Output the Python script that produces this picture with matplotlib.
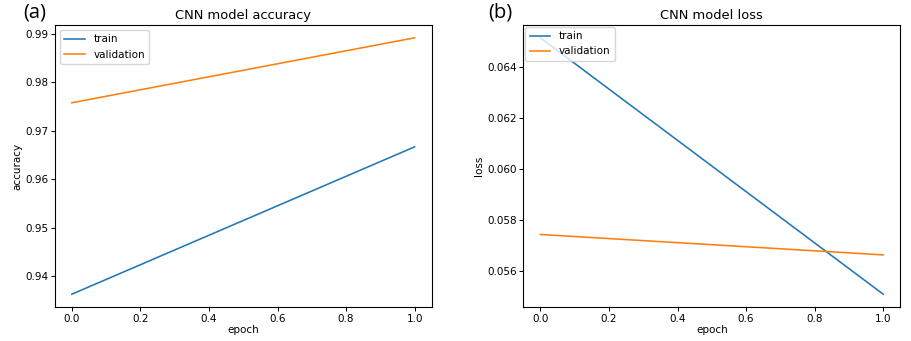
import matplotlib
matplotlib.use("Agg")
import matplotlib.pyplot as plt

epochs = [0.0, 1.0]
acc_train = [0.9363, 0.9667]
acc_val = [0.9758, 0.9892]
loss_train = [0.06515, 0.05510]
loss_val = [0.05744, 0.05664]
series_labels = ["train", "validation"]

fs = 7.5
lw = 1.15
plt.rcParams.update({"font.size": fs, "axes.linewidth": 0.8,
                     "xtick.major.width": 0.7, "ytick.major.width": 0.7,
                     "xtick.major.size": 2.7, "ytick.major.size": 2.7})

fig = plt.figure(figsize=(9.12, 3.41), dpi=100)
ax1 = fig.add_axes([0.060, 0.0997, 0.4134, 0.827])
ax2 = fig.add_axes([0.5738, 0.0997, 0.4134, 0.827])

ax1.plot(epochs, acc_train, color="#1f77b4", lw=lw, label=series_labels[0])
ax1.plot(epochs, acc_val, color="#ff7f0e", lw=lw, label=series_labels[1])
ax1.set_title("CNN model accuracy", fontsize=9.4, pad=4)
ax1.set_xlabel("epoch", labelpad=1)
ax1.set_ylabel("accuracy", labelpad=2)
ax1.legend(loc="upper left", fontsize=fs, handlelength=2.0)

ax2.plot(epochs, loss_train, color="#1f77b4", lw=lw, label=series_labels[0])
ax2.plot(epochs, loss_val, color="#ff7f0e", lw=lw, label=series_labels[1])
ax2.set_title("CNN model loss", fontsize=9.4, pad=4)
ax2.set_xlabel("epoch", labelpad=1)
ax2.set_ylabel("loss", labelpad=2)
ax2.legend(loc="upper left", fontsize=fs, handlelength=2.0, borderaxespad=0.2)

for ax in (ax1, ax2):
    ax.tick_params(labelsize=fs, pad=2)

fig.text(0.025, 0.962, "(a)", fontsize=14.5, family="Open Sans", va="center", ha="left")
fig.text(0.535, 0.962, "(b)", fontsize=14.5, family="Open Sans", va="center", ha="left")

fig.savefig("out.png", dpi=100)
